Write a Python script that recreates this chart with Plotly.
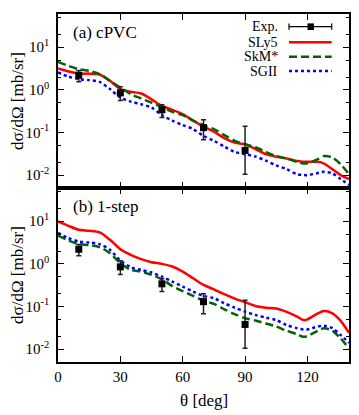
import plotly.graph_objects as go

theta = [0, 5, 10, 15, 20, 25, 30, 35, 40, 45, 50, 55, 60, 65, 70, 75, 80, 85, 90, 95,
         100, 105, 110, 115, 118, 120, 125, 128, 132, 136, 140]

# (a) cPVC
a_sly5 = [3.16, 2.7, 2.4, 2.4, 2.29, 1.63, 1.04, 0.90, 0.82, 0.60, 0.42, 0.34, 0.27, 0.19, 0.138,
          0.104, 0.074, 0.058, 0.053, 0.041, 0.031, 0.027, 0.0246, 0.0214, 0.0207, 0.0205, 0.0205,
          0.0187, 0.0138, 0.0100, 0.0081]
a_skm = [4.5, 3.65, 3.05, 2.79, 2.33, 1.63, 1.13, 0.79, 0.63, 0.50, 0.39, 0.305, 0.255, 0.19, 0.149,
         0.12, 0.087, 0.064, 0.053, 0.045, 0.035, 0.028, 0.0246, 0.0205, 0.0187, 0.019, 0.0237,
         0.028, 0.026, 0.018, 0.0105]
a_sgii = [2.55, 2.05, 1.78, 1.69, 1.54, 1.04, 0.66, 0.53, 0.46, 0.385, 0.255, 0.19, 0.149, 0.12, 0.083,
          0.064, 0.047, 0.035, 0.031, 0.0274, 0.0218, 0.017, 0.0138, 0.0105, 0.0101, 0.010, 0.0112,
          0.012, 0.011, 0.0081, 0.0059]

# (b) 1-step
b_sly5 = [9.9, 7.8, 6.3, 5.97, 5.46, 3.67, 2.21, 1.63, 1.29, 1.09, 1.0, 0.865, 0.66, 0.46, 0.32,
          0.253, 0.194, 0.153, 0.126, 0.103, 0.094, 0.09, 0.075, 0.058, 0.048, 0.05, 0.069, 0.078,
          0.069, 0.046, 0.024]
b_skm = [4.56, 3.54, 2.9, 2.75, 2.47, 1.78, 1.04, 0.72, 0.66, 0.55, 0.435, 0.30, 0.23, 0.177, 0.137,
         0.115, 0.086, 0.066, 0.053, 0.047, 0.04, 0.034, 0.027, 0.0225, 0.0195, 0.0203, 0.027, 0.031,
         0.027, 0.0178, 0.0104]
b_sgii = [5.3, 4.0, 3.35, 3.18, 2.9, 2.13, 1.2, 0.835, 0.72, 0.625, 0.50, 0.384, 0.293, 0.224, 0.177,
          0.156, 0.119, 0.094, 0.076, 0.063, 0.055, 0.048, 0.0367, 0.031, 0.029, 0.029, 0.034, 0.0355,
          0.031, 0.0214, 0.0141]

exp_theta = [10, 30, 50, 70, 90]
exp_val = [2.2, 0.85, 0.34, 0.13, 0.038]
exp_hi = [2.85, 1.18, 0.45, 0.20, 0.14]
exp_lo = [1.55, 0.56, 0.225, 0.068, 0.0105]

series_names = ["SLy5", "SkM*", "SGII"]
panel_labels = ["(a) cPVC", "(b) 1-step"]
x_ticks = [0, 30, 60, 90, 120]
y_ticks = [0.01, 0.1, 1, 10]
y_ticktext = ["10<sup>-2</sup>", "10<sup>-1</sup>", "10<sup>0</sup>", "10<sup>1</sup>"]
y_minor = [m * 10 ** e for e in range(-3, 2) for m in (2, 5)]

FONT = "Liberation Serif"
colors = ["#ff0000", "#006400", "#0000ff"]
dashes = ["solid", "8px,4px", "dot"]

fig = go.Figure()
panels = [("x", "y", [a_sly5, a_skm, a_sgii]), ("x2", "y2", [b_sly5, b_skm, b_sgii])]
for xa, ya, curves in panels:
    for name, vals, col, dsh in zip(series_names, curves, colors, dashes):
        fig.add_trace(go.Scatter(x=theta, y=vals, mode="lines", name=name, showlegend=False,
                                 line=dict(color=col, width=2.5, dash=dsh, shape="spline", smoothing=0.8),
                                 xaxis=xa, yaxis=ya))
    fig.add_trace(go.Scatter(
        x=exp_theta, y=exp_val, mode="markers", name="Exp.", showlegend=False,
        marker=dict(symbol="square", size=7, color="black"),
        error_y=dict(type="data", symmetric=False,
                     array=[h - v for h, v in zip(exp_hi, exp_val)],
                     arrayminus=[v - l for v, l in zip(exp_val, exp_lo)],
                     thickness=1.5, width=2.5, color="#222"),
        xaxis=xa, yaxis=ya))

axis_common = dict(showline=True, linecolor="black", linewidth=1.5, mirror="ticks",
                   ticks="inside", tickcolor="black", tickwidth=1, ticklen=6,
                   showgrid=False, zeroline=False, automargin=False,
                   tickfont=dict(family=FONT, size=15, color="black"))
xcommon = dict(axis_common, range=[0, 140], tickmode="array", tickvals=x_ticks)
ycommon = dict(axis_common, type="log", range=[-2.301, 1.778], tickmode="array",
               tickvals=y_ticks, ticktext=y_ticktext, ticklabelstandoff=4,
               minor=dict(tickmode="array", tickvals=y_minor, ticks="inside", ticklen=3,
                          tickcolor="black", tickwidth=1))

fig.update_layout(
    width=359, height=415,
    margin=dict(l=58, r=10, t=14, b=53),
    paper_bgcolor="white", plot_bgcolor="white",
    showlegend=False,
    xaxis=dict(xcommon, domain=[0, 1], anchor="y", showticklabels=False),
    yaxis=dict(ycommon, domain=[0.5, 1], anchor="x"),
    xaxis2=dict(xcommon, domain=[0, 1], anchor="y2", showticklabels=True),
    yaxis2=dict(ycommon, domain=[0, 0.5], anchor="x2"),
)

ann = []
ytitle = "dσ/dΩ [mb/sr]"
for i, yc in enumerate([0.75, 0.25]):
    ann.append(dict(text=ytitle, xref="paper", yref="paper", x=-0.141, y=yc, textangle=-90,
                    xanchor="center", yanchor="middle", showarrow=False,
                    font=dict(family=FONT, size=17, color="black")))
for lbl, yr in zip(panel_labels, ["y domain", "y2 domain"]):
    ann.append(dict(text=lbl, xref="x domain", yref=yr, x=0.046, y=0.8925,
                    xanchor="left", yanchor="middle", showarrow=False,
                    font=dict(family=FONT, size=17, color="black")))
ann.append(dict(text="θ [deg]", xref="paper", yref="paper", x=0.5, y=0, yshift=-38,
                xanchor="center", yanchor="middle", showarrow=False,
                font=dict(family=FONT, size=17, color="black")))

# legend (text on the left, sample on the right) inside panel (a)
leg_names = ["Exp."] + series_names
leg_y = [0.927, 0.8374, 0.7546, 0.6724]
x0s, x1s, xm = 0.7938, 0.9405, 0.8684
for nm, yy in zip(leg_names, leg_y):
    ann.append(dict(text=nm, xref="x domain", yref="y domain", x=0.7629, y=yy,
                    xanchor="right", yanchor="middle", showarrow=False,
                    font=dict(family=FONT, size=14, color="black")))
shapes = []
# Exp. sample
shapes.append(dict(type="line", xref="x domain", yref="y domain", x0=x0s, x1=x1s,
                   y0=leg_y[0], y1=leg_y[0], line=dict(color="black", width=1.2)))
for xc in (x0s, x1s):
    shapes.append(dict(type="line", xref="x domain", yref="y domain", x0=xc, x1=xc,
                       y0=leg_y[0] - 0.018, y1=leg_y[0] + 0.018, line=dict(color="black", width=1.2)))
shapes.append(dict(type="rect", xref="x domain", yref="y domain", x0=xm - 0.011, x1=xm + 0.011,
                   y0=leg_y[0] - 0.019, y1=leg_y[0] + 0.019, fillcolor="black",
                   line=dict(color="black", width=0)))
for yy, col, dsh in zip(leg_y[1:], colors, dashes):
    shapes.append(dict(type="line", xref="x domain", yref="y domain", x0=x0s, x1=x1s,
                       y0=yy, y1=yy, line=dict(color=col, width=2.5, dash=dsh)))

fig.update_layout(annotations=ann, shapes=shapes)
fig.write_html("out.html", config={"displayModeBar": False},
               post_script="document.body.style.margin='0px';document.body.style.overflow='hidden';")
